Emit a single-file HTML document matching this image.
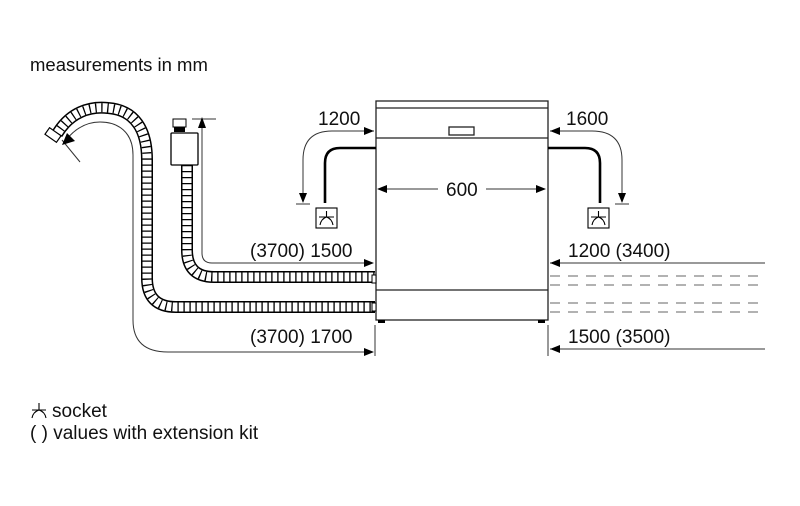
<!DOCTYPE html>
<html><head><meta charset="utf-8"><style>
html,body{margin:0;padding:0;background:#fff;}
svg{display:block;}
text{font-family:"Liberation Sans",Arial,sans-serif;fill:#111;}
</style></head><body>
<svg width="800" height="506" viewBox="0 0 800 506" xmlns="http://www.w3.org/2000/svg">
<text x="30" y="71" font-size="18.5">measurements in mm</text>

<!-- hoses -->
<g fill="none">
<path d="M57,134 C70,112 90,106 108,108 C135,110 147,130 147,160 L147,278 Q147,307 176,307 L375,307" stroke="#000" stroke-width="12"/>
<path d="M57,134 C70,112 90,106 108,108 C135,110 147,130 147,160 L147,278 Q147,307 176,307 L375,307" stroke="#fff" stroke-width="9"/>
<path d="M57,134 C70,112 90,106 108,108 C135,110 147,130 147,160 L147,278 Q147,307 176,307 L375,307" stroke="#000" stroke-width="9" stroke-dasharray="1.3 4.7"/>
<path d="M187,165 L187,250 Q187,277 214,277 L375,277" stroke="#000" stroke-width="12"/>
<path d="M187,165 L187,250 Q187,277 214,277 L375,277" stroke="#fff" stroke-width="9"/>
<path d="M187,165 L187,250 Q187,277 214,277 L375,277" stroke="#000" stroke-width="9" stroke-dasharray="1.3 4.7"/>
</g>
<rect x="46" y="131" width="14" height="8" transform="rotate(35 53 135)" fill="#fff" stroke="#000" stroke-width="1.2"/>
<rect x="173" y="119" width="13" height="8" fill="#fff" stroke="#000"/>
<rect x="174" y="127" width="11" height="5" fill="#000"/>
<rect x="171" y="133" width="27" height="32" rx="1" fill="#fff" stroke="#000" stroke-width="1.3"/>

<!-- appliance -->
<g fill="none" stroke="#222" stroke-width="1.3">
<rect x="376" y="101" width="172" height="219" fill="#fff"/>
<line x1="376" y1="108" x2="548" y2="108"/>
<line x1="376" y1="138" x2="548" y2="138"/>
<line x1="376" y1="290" x2="548" y2="290"/>
<rect x="449" y="127" width="25" height="8"/>
</g>
<rect x="378" y="320" width="7" height="3" fill="#000"/>
<rect x="538" y="320" width="7" height="3" fill="#000"/>
<rect x="372" y="275" width="4" height="8" fill="#fff" stroke="#000"/>
<rect x="372" y="303" width="4" height="8" fill="#fff" stroke="#000"/>

<!-- dimension lines -->
<g fill="none" stroke="#333" stroke-width="1">
<path d="M133,320 L133,155 C133,132 118,122 100,122 C85,122 74,130 66,140"/>
<line x1="62" y1="140" x2="80" y2="162"/>
<path d="M133,320 Q133,352 168,352 L372,352"/>
<path d="M202,122 L202,253 Q202,263 212,263 L372,263" />
<line x1="192" y1="119" x2="216" y2="119"/>
<line x1="375" y1="325" x2="375" y2="356"/>
<line x1="548" y1="325" x2="548" y2="356"/>
<path d="M374,131 L332,131 Q303,131 303,160 L303,202"/>
<line x1="296" y1="204" x2="310" y2="204"/>
<path d="M550,131 L592,131 Q622,131 622,160 L622,202"/>
<line x1="615" y1="204" x2="629" y2="204"/>
<line x1="550" y1="263" x2="765" y2="263"/>
<line x1="550" y1="349" x2="765" y2="349"/>
<line x1="378" y1="189" x2="438" y2="189"/>
<line x1="486" y1="189" x2="545" y2="189"/>
</g>
<g stroke="#666" stroke-width="1" stroke-dasharray="10 8">
<line x1="550" y1="276" x2="765" y2="276"/>
<line x1="550" y1="285" x2="765" y2="285"/>
<line x1="550" y1="303" x2="765" y2="303"/>
<line x1="550" y1="312" x2="765" y2="312"/>
</g>
<g fill="#000">
<path d="M62,145 L67,133 L75,141 z"/>
<path d="M202,117 L198,128 L206,128 z"/>
<path d="M374,263 L364,259 L364,267 z"/>
<path d="M374,352 L364,348 L364,356 z"/>
<path d="M374,131 L364,127 L364,135 z"/>
<path d="M303,203 L299,193 L307,193 z"/>
<path d="M550,131 L560,127 L560,135 z"/>
<path d="M622,203 L618,193 L626,193 z"/>
<path d="M550,263 L560,259 L560,267 z"/>
<path d="M550,349 L560,345 L560,353 z"/>
<path d="M377,189 L387,185 L387,193 z"/>
<path d="M546,189 L536,185 L536,193 z"/>
</g>

<g fill="none" stroke="#000" stroke-width="2.6">
<path d="M376,148 L340,148 Q325,148 325,163 L325,203"/>
<path d="M548,148 L585,148 Q600,148 600,163 L600,203"/>
</g>
<g fill="#fff" stroke="#000" stroke-width="1.1">
<rect x="316" y="208" width="21" height="20"/>
<rect x="588" y="208" width="21" height="20"/>
</g>
<g fill="none" stroke="#000" stroke-width="1.1">
<path d="M326.5,211 L326.5,217 M319,217 L334,217 M320,225 Q321,219 326.5,217 Q332,219 333,225"/>
<path d="M598.5,211 L598.5,217 M591,217 L606,217 M592,225 Q593,219 598.5,217 Q604,219 605,225"/>
</g>

<g font-size="19">
<text x="318" y="125">1200</text>
<text x="566" y="125">1600</text>
<text x="446" y="196">600</text>
<text x="250" y="257">(3700) 1500</text>
<text x="250" y="343">(3700) 1700</text>
<text x="568" y="257">1200 (3400)</text>
<text x="568" y="343">1500 (3500)</text>
<text x="52" y="417">socket</text>
<text x="30" y="439">( ) values with extension kit</text>
</g>
<g fill="none" stroke="#000" stroke-width="1.1">
<path d="M39,403 L39,410 M32,410 L46,410 M32,418 Q33,412 39,410 Q45,412 46,418"/>
</g>
</svg>
</body></html>
